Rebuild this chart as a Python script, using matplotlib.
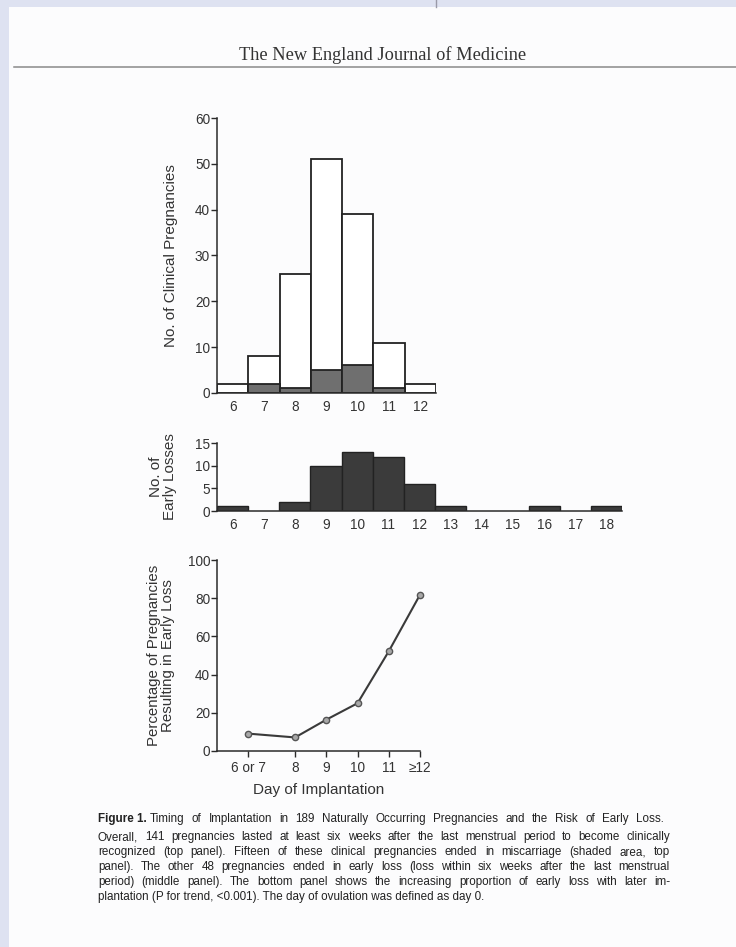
import matplotlib
matplotlib.use("Agg")
import matplotlib.pyplot as plt
from matplotlib.patches import Rectangle

# Datos
dias_top = [6, 7, 8, 9, 10, 11, 12]
clinicos = [2, 8, 26, 51, 39, 11, 2]
abortos = [0, 2, 1, 5, 6, 1, 0]

dias_mid = [6, 7, 8, 9, 10, 11, 12, 13, 14, 15, 16, 17, 18]
perdidas = [1, 0, 2, 10, 13, 12, 6, 1, 0, 0, 1, 0, 1]

dias_pct = [6.5, 8, 9, 10, 11, 12]
etiquetas_pct = ["6 or 7", "8", "9", "10", "11", "\u226512"]
porcentaje = [9.1, 7.1, 16.4, 25.0, 52.2, 81.8]

pie = [
    "Overall, 141 pregnancies lasted at least six weeks after the last menstrual period to become clinically",
    "recognized (top panel). Fifteen of these clinical pregnancies ended in miscarriage (shaded area, top",
    "panel). The other 48 pregnancies ended in early loss (loss within six weeks after the last menstrual",
    "period) (middle panel). The bottom panel shows the increasing proportion of early loss with later im-",
    "plantation (P for trend, <0.001). The day of ovulation was defined as day 0.",
]

W, H = 736, 947
plt.rcParams['font.family'] = ['Liberation Sans', 'DejaVu Sans']
fig = plt.figure(figsize=(W / 100, H / 100), dpi=100, facecolor='#dee2f1')

# pagina blanca
fig.patches.append(Rectangle((9 / W, 0), 1, 1 - 7 / H, transform=fig.transFigure,
                             facecolor='#fcfcfd', edgecolor='none', zorder=-5))
fig.add_artist(plt.Line2D([14 / W, 1], [1 - 67 / H] * 2, color='#8a8a8a', lw=1.1))
fig.add_artist(plt.Line2D([436 / W] * 2, [1, 1 - 7 / H], color='#9a9aa8', lw=1.0))
fig.text(383 / W, 1 - 55 / H, "The New England Journal of Medicine", family='Liberation Serif',
         fontsize=13.2, color='#333333', ha='center', va='center')


def caja(x0, y0, x1, y1):
    return [x0 / W, 1 - y1 / H, (x1 - x0) / W, (y1 - y0) / H]


def estilo(ax):
    for s in ['top', 'right']:
        ax.spines[s].set_visible(False)
    for s in ['left', 'bottom']:
        ax.spines[s].set_color('#2a2a2a')
        ax.spines[s].set_linewidth(1.1)
    ax.set_facecolor('none')
    ax.tick_params(axis='y', direction='out', length=4, width=1, color='#2a2a2a',
                   labelsize=9.8, labelcolor='#333333', pad=1)
    ax.tick_params(axis='x', labelsize=9.8, labelcolor='#333333')


# panel superior
ax1 = fig.add_axes(caja(217, 118, 436, 393))
ax1.bar(dias_top, clinicos, width=1, color='white', edgecolor='#222222', linewidth=1.3)
dias_ab = [d for d, a in zip(dias_top, abortos) if a > 0]
ab = [a for a in abortos if a > 0]
ax1.bar(dias_ab, ab, width=1, color='#6f6f6f', edgecolor='#222222', linewidth=1.3)
ax1.set_xlim(5.5, 12.5)
ax1.set_ylim(0, 60)
ax1.set_yticks([0, 10, 20, 30, 40, 50, 60])
ax1.set_xticks(dias_top)
estilo(ax1)
ax1.tick_params(axis='x', length=0, pad=5)
ax1.set_ylabel("No. of Clinical Pregnancies", fontsize=11, color='#333333', labelpad=12)

# panel medio
ax2 = fig.add_axes(caja(217, 443, 622, 511))
dias_p = [d for d, p in zip(dias_mid, perdidas) if p > 0]
pp = [p for p in perdidas if p > 0]
ax2.bar(dias_p, pp, width=1, color='#3b3b3b', edgecolor='#222222', linewidth=1.0)
ax2.set_xlim(5.5, 18.5)
ax2.set_ylim(0, 15)
ax2.set_yticks([0, 5, 10, 15])
ax2.set_xticks(dias_mid)
estilo(ax2)
ax2.tick_params(axis='x', length=0, pad=5)
ax2.set_ylabel("No. of\nEarly Losses", fontsize=11, color='#333333', labelpad=13,
               linespacing=1.0)

# panel inferior
ax3 = fig.add_axes(caja(217, 560, 420, 751))
ax3.plot(dias_pct, porcentaje, color='#3a3a3a', lw=1.5, marker='o', ms=4.5,
         markerfacecolor='#a8a8a8', markeredgecolor='#555555', markeredgewidth=1,
         clip_on=False)
ax3.set_xlim(5.5, 12)
ax3.set_ylim(0, 100)
ax3.set_yticks([0, 20, 40, 60, 80, 100])
ax3.set_xticks(dias_pct)
ax3.set_xticklabels(etiquetas_pct)
estilo(ax3)
ax3.tick_params(axis='x', direction='out', length=4, width=1, color='#2a2a2a', pad=3)
ax3.set_ylabel("Percentage of Pregnancies\nResulting in Early Loss", fontsize=10.8,
               color='#333333', labelpad=9, linespacing=1.0)
ax3.set_xlabel("Day of Implantation", fontsize=11, color='#333333', labelpad=6)

# pie de figura, justificado a mano
r = fig.canvas.get_renderer()
x_izq, x_der = 98, 670
tam = 8.4


def ancho(t):
    bb = t.get_window_extent(renderer=r)
    return bb.width


def justificar(linea, y, x0, x1):
    palabras = linea.split(' ')
    objs = [fig.text(0, 1 - y / H, p, fontsize=tam, color='#222222', va='baseline')
            for p in palabras]
    anchos = [ancho(o) for o in objs]
    hueco = (x1 - x0 - sum(anchos)) / max(len(palabras) - 1, 1)
    x = x0
    for o, a in zip(objs, anchos):
        o.set_x(x / W)
        x += a + hueco


ys = [822, 840, 855, 870, 885, 900]
tb = fig.text(x_izq / W, 1 - ys[0] / H, "Figure 1.", fontsize=tam, weight='bold',
              color='#222222', va='baseline')
wb = ancho(tb)
justificar("Timing of Implantation in 189 Naturally Occurring Pregnancies and the Risk of Early Loss.",
           ys[0], x_izq + wb + 3, 664)
for linea, y in zip(pie[:4], ys[1:5]):
    justificar(linea, y, x_izq, x_der)
fig.text(x_izq / W, 1 - ys[5] / H, pie[4], fontsize=tam, color='#222222', va='baseline')

fig.savefig("out.png", dpi=100, facecolor=fig.get_facecolor())
